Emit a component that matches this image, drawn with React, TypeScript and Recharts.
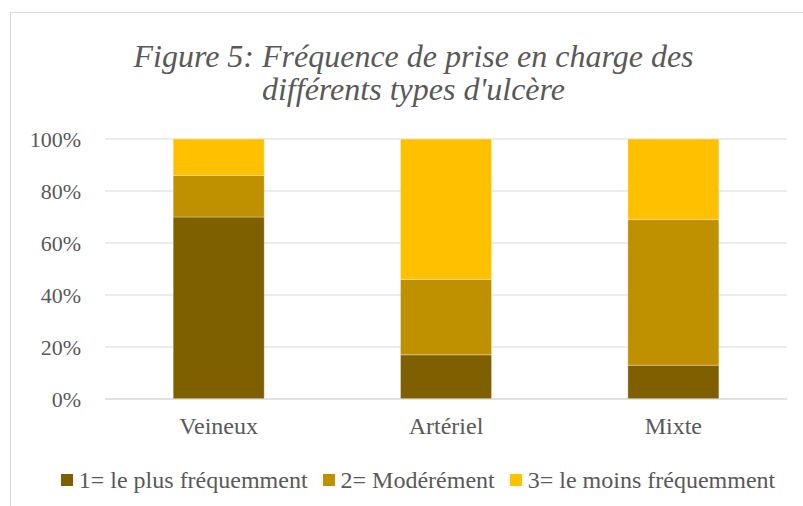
import { BarChart, Bar, XAxis, YAxis, CartesianGrid, Legend } from "recharts"

const CATEGORIES = ["Veineux", "Artériel", "Mixte"]
const PLUS_FREQUENT = [70, 17, 13]
const MODEREMENT = [16, 29, 56]
const MOINS_FREQUENT = [14, 54, 31]
const Y_TICKS = [0, 0.2, 0.4, 0.6, 0.8, 1]

const SERIES = [
  { key: "plus", name: "1= le plus fréquemment", color: "#7F6000" },
  { key: "mod", name: "2= Modérément", color: "#BF9000" },
  { key: "moins", name: "3= le moins fréquemment", color: "#FFC000" },
]

const data = CATEGORIES.map((c, i) => ({
  name: c,
  plus: PLUS_FREQUENT[i],
  mod: MODEREMENT[i],
  moins: MOINS_FREQUENT[i],
}))

const FONT = '"Liberation Serif", "Times New Roman", serif'
const TEXT = "#595959"
const FS = 24

function LegendContent() {
  return (
    <div style={{ display: "flex", justifyContent: "center", fontFamily: FONT, fontSize: FS, lineHeight: "26px", color: TEXT }}>
      {SERIES.map((s) => (
        <div key={s.key} style={{ display: "flex", alignItems: "center", marginRight: 15 }}>
          <span style={{ width: 12, height: 12, background: s.color, marginRight: 6, display: "inline-block" }} />
          <span>{s.name}</span>
        </div>
      ))}
    </div>
  )
}

export default function App() {
  return (
    <div style={{ position: "absolute", left: 0, top: 0, width: 803, height: 506, overflow: "hidden", background: "#fff" }}>
      <div
        style={{
          position: "absolute",
          left: 10,
          top: 12,
          width: 805,
          height: 500,
          border: "1px solid #d9d9d9",
          boxSizing: "content-box",
        }}
      >
        <div
          style={{
            position: "absolute",
            left: 0,
            top: 27,
            width: 805,
            textAlign: "center",
            fontFamily: FONT,
            fontStyle: "italic",
            fontSize: 32,
            lineHeight: "33px",
            color: TEXT,
          }}
        >
          Figure 5: Fréquence de prise en charge des
          <br />
          différents types d'ulcère
        </div>
        <BarChart
          width={805}
          height={500}
          data={data}
          stackOffset="expand"
          barCategoryGap="30%"
          margin={{ top: 126, right: 29, bottom: 58, left: 0 }}
        >
          <CartesianGrid vertical={false} stroke="#d9d9d9" />
          <XAxis
            dataKey="name"
            axisLine={{ stroke: "#d9d9d9" }}
            tickLine={false}
            tickMargin={12}
            tick={{ fontSize: FS, fill: TEXT, fontFamily: FONT }}
          />
          <YAxis
            width={94}
            domain={[0, 1]}
            ticks={Y_TICKS}
            axisLine={false}
            tickLine={false}
            tickMargin={18}
            tickFormatter={(v) => `${Math.round(v * 100)}%`}
            tick={{ fontSize: 22, fill: TEXT, fontFamily: FONT }}
          />
          <Legend
            content={<LegendContent />}
            wrapperStyle={{ position: "absolute", top: 454, left: 12, width: 805 }}
          />
          {SERIES.map((s) => (
            <Bar
              key={s.key}
              dataKey={s.key}
              name={s.name}
              stackId="a"
              fill={s.color}
              stroke="#ffffff"
              strokeOpacity={0.4}
              strokeWidth={0.75}
              isAnimationActive={false}
            />
          ))}
        </BarChart>
      </div>
    </div>
  )
}
